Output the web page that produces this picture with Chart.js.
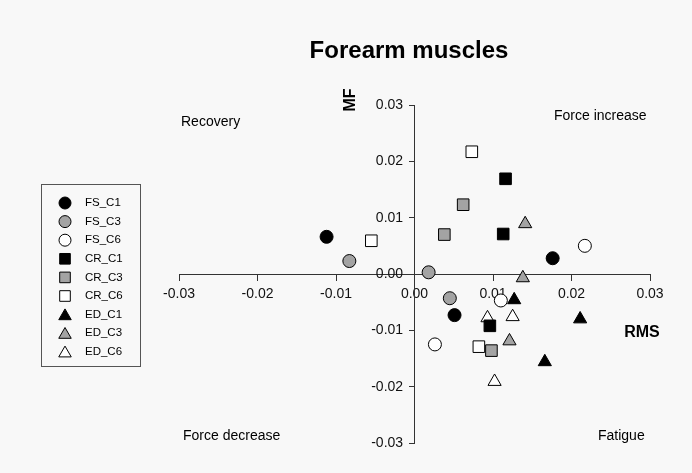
<!DOCTYPE html>
<html><head><meta charset="utf-8">
<script src="https://cdn.jsdelivr.net/npm/chart.js@4"></script>
<style>html,body{margin:0;padding:0;background:#f8f8f8;overflow:hidden}</style>
</head><body>
<canvas id="c" width="692" height="473" style="width:692px;height:473px;display:block"></canvas>
<script>
// ---- data (RMS, MF) ----
const seriesNames = ['FS_C1','FS_C3','FS_C6','CR_C1','CR_C3','CR_C6','ED_C1','ED_C3','ED_C6'];
const FS_C1 = [[-0.0112, 0.0066], [0.0051, -0.0073], [0.0176, 0.0028]];
const FS_C3 = [[-0.0083, 0.0023], [0.0018, 0.0003], [0.0045, -0.0043]];
const FS_C6 = [[0.0217, 0.0050], [0.0026, -0.0125], [0.0110, -0.0047]];
const CR_C1 = [[0.0116, 0.0169], [0.0113, 0.0071], [0.0096, -0.0092]];
const CR_C3 = [[0.0062, 0.0123], [0.0038, 0.0070], [0.0098, -0.0136]];
const CR_C6 = [[0.0073, 0.0217], [-0.0055, 0.0059], [0.0082, -0.0129]];
const ED_C1 = [[0.0127, -0.0046], [0.0211, -0.0080], [0.0166, -0.0156]];
const ED_C3 = [[0.0141, 0.0089], [0.0138, -0.0007], [0.0121, -0.0119]];
const ED_C6 = [[0.0093, -0.0078], [0.0125, -0.0076], [0.0102, -0.0191]];
const xTicks = [-0.03, -0.02, -0.01, 0.00, 0.01, 0.02, 0.03];
const yTicks = [-0.03, -0.02, -0.01, 0.00, 0.01, 0.02, 0.03];
const titleText = 'Forearm muscles';
const xTitle = 'RMS';
const yTitle = 'MF';
const quadrantLabels = ['Recovery', 'Force increase', 'Force decrease', 'Fatigue'];

const seriesData = [FS_C1, FS_C3, FS_C6, CR_C1, CR_C3, CR_C6, ED_C1, ED_C3, ED_C6];
const fills = ['#000000', '#a3a3a3', '#ffffff'];
const shapes = ['circle', 'rect', 'triangle'];
const radii = {circle: 6.5, rect: 8.2, triangle: 7.6};
const FONT = '"Liberation Sans", Arial, sans-serif';

const datasets = seriesData.map((pts, i) => {
  const shape = shapes[Math.floor(i / 3)];
  return {
    label: seriesNames[i],
    data: pts.map(p => ({x: p[0], y: p[1]})),
    pointStyle: shape,
    pointRadius: radii[shape],
    pointHoverRadius: radii[shape],
    backgroundColor: fills[i % 3],
    borderColor: '#000000',
    borderWidth: 1,
    showLine: false
  };
});

function fmt(v) { return Math.abs(v) < 1e-9 ? '0.00' : v.toFixed(2); }

const extras = {
  id: 'extras',
  beforeDraw(chart) {
    const ctx = chart.ctx;
    ctx.save();
    ctx.fillStyle = '#f8f8f8';
    ctx.fillRect(0, 0, chart.width, chart.height);
    ctx.restore();
  },
  afterDraw(chart) {
    const ctx = chart.ctx;
    ctx.save();
    ctx.fillStyle = '#000';
    ctx.textBaseline = 'middle';
    // title
    ctx.font = 'bold 24px ' + FONT;
    ctx.textAlign = 'center';
    ctx.fillText(titleText, 409, 51);
    // quadrant labels
    ctx.font = '14px ' + FONT;
    ctx.textAlign = 'left';
    ctx.fillText(quadrantLabels[0], 181, 122);
    ctx.fillText(quadrantLabels[1], 554, 116);
    ctx.fillText(quadrantLabels[2], 183, 436);
    ctx.fillText(quadrantLabels[3], 598, 436);
    // axis titles
    ctx.font = 'bold 16px ' + FONT;
    ctx.textAlign = 'center';
    ctx.fillText(xTitle, 642, 333);
    ctx.save();
    ctx.translate(351, 100);
    ctx.rotate(-Math.PI / 2);
    ctx.fillText(yTitle, 0, 0);
    ctx.restore();
    // legend
    ctx.strokeStyle = '#555';
    ctx.lineWidth = 1;
    ctx.strokeRect(41.5, 184.5, 99, 182);
    ctx.font = '11.5px ' + FONT;
    ctx.textAlign = 'left';
    chart.data.datasets.forEach((ds, i) => {
      const y = 203 + i * 18.6;
      ctx.fillStyle = ds.backgroundColor;
      ctx.strokeStyle = ds.borderColor;
      ctx.lineWidth = 1;
      const r = ds.pointStyle === 'circle' ? 6 : (ds.pointStyle === 'rect' ? 7.5 : 7.2);
      Chart.helpers.drawPoint(ctx, {pointStyle: ds.pointStyle, radius: r, rotation: 0, borderWidth: 1}, 65, y + (ds.pointStyle === 'triangle' ? 1.5 : 0));
      ctx.fillStyle = '#000';
      ctx.fillText(ds.label, 85, y);
    });
    ctx.restore();
  }
};

new Chart(document.getElementById('c'), {
  type: 'scatter',
  data: { datasets },
  options: {
    responsive: false,
    animation: false,
    events: [],
    layout: { padding: { left: 179, right: 42, top: 105, bottom: 30 } },
    plugins: { legend: { display: false }, title: { display: false }, tooltip: { enabled: false } },
    scales: {
      x: {
        type: 'linear', min: -0.03, max: 0.03,
        position: { y: 0 },
        afterBuildTicks: s => { s.ticks = xTicks.map(v => ({value: v})); },
        ticks: { callback: v => fmt(v), font: { family: FONT, size: 14 }, color: '#111', padding: 6, maxRotation: 0, autoSkip: false },
        grid: { drawOnChartArea: false, drawTicks: true, tickLength: 6, color: '#333' },
        border: { display: true, color: '#333', width: 1 }
      },
      y: {
        type: 'linear', min: -0.03, max: 0.03,
        position: { x: 0 },
        afterBuildTicks: s => { s.ticks = yTicks.map(v => ({value: v})); },
        ticks: { display: false },
        grid: { drawOnChartArea: false, drawTicks: true, tickLength: 5, color: '#333' },
        border: { display: true, color: '#333', width: 1 }
      },
      yLabels: {
        axis: 'y',
        type: 'linear', min: -0.03, max: 0.03,
        position: { x: -0.00145 },
        afterBuildTicks: s => { s.ticks = yTicks.map(v => ({value: v})); },
        ticks: { callback: v => fmt(v), font: { family: FONT, size: 14 }, color: '#111', autoSkip: false },
        grid: { display: false, drawOnChartArea: false, drawTicks: false },
        border: { display: false }
      }
    }
  },
  plugins: [extras]
});
</script>
</body></html>
